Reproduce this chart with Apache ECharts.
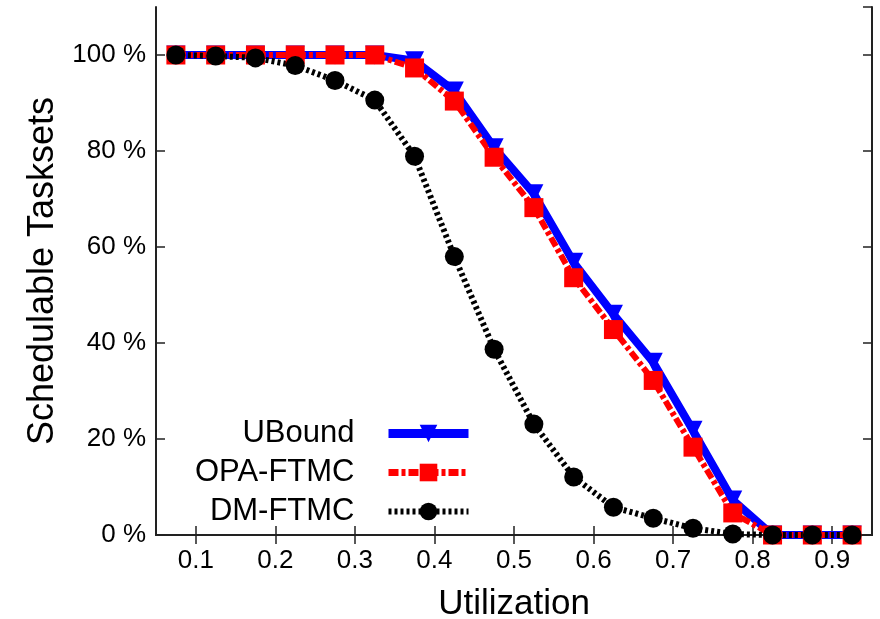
<!DOCTYPE html>
<html>
<head>
<meta charset="utf-8">
<script src="https://cdn.jsdelivr.net/npm/echarts@6/dist/echarts.min.js"></script>
<style>html,body{margin:0;padding:0;background:#fff}#c{width:880px;height:619px}</style>
</head>
<body>
<div id="c"></div>
<script>
const utilization = [0.075, 0.125, 0.175, 0.225, 0.275, 0.325, 0.375, 0.425, 0.475, 0.525, 0.575, 0.625, 0.675, 0.725, 0.775, 0.825, 0.875, 0.925];
const ubound  = [100, 100, 100, 100, 100, 100, 98.8, 92.5, 80.7, 71.1, 56.8, 46.0, 36.0, 21.8, 7.3, 0, 0, 0];
const opaFtmc = [100, 100, 100, 100, 100, 100, 97.3, 90.4, 78.7, 68.2, 53.6, 42.8, 32.2, 18.3, 4.6, 0, 0, 0];
const dmFtmc  = [100, 99.8, 99.4, 97.8, 94.7, 90.6, 78.9, 58.0, 38.7, 23.1, 12.1, 5.8, 3.5, 1.4, 0.2, 0, 0, 0];
const xTicks = [0.1, 0.2, 0.3, 0.4, 0.5, 0.6, 0.7, 0.8, 0.9];
const seriesNames = ['UBound', 'OPA-FTMC', 'DM-FTMC'];

const pairs = arr => utilization.map((x, i) => [x, arr[i]]);
const FONT = '"Liberation Sans", Arial, sans-serif';
const axisLineStyle = {color: '#222', width: 2};
const tickStyle = {color: '#222', width: 1.5};

const chart = echarts.init(document.getElementById('c'), null, {renderer: 'canvas'});
chart.setOption({
  animation: false,
  backgroundColor: '#fff',
  grid: {left: 156, right: 8, top: 7, bottom: 84, containLabel: false, outerBoundsMode: 'none'},
  legend: {
    orient: 'vertical', align: 'right',
    right: 402, top: 413,
    itemWidth: 80, itemHeight: 22, itemGap: 8,
    textStyle: {fontFamily: FONT, fontSize: 31, color: '#000', padding: [0, 29, 0, 0]},
    data: [
      {name: seriesNames[0], lineStyle: {width: 9}},
      {name: seriesNames[1], lineStyle: {width: 7}},
      {name: seriesNames[2], lineStyle: {width: 6}}
    ]
  },
  xAxis: [{
    type: 'value', min: 0.05, max: 0.95, position: 'bottom',
    name: 'Utilization', nameLocation: 'middle', nameGap: 52,
    nameTextStyle: {fontFamily: FONT, fontSize: 35, color: '#000'},
    axisLine: {lineStyle: axisLineStyle},
    axisTick: {inside: true, length: 9, lineStyle: tickStyle, customValues: xTicks},
    axisLabel: {fontFamily: FONT, fontSize: 26, color: '#000', margin: 13, customValues: xTicks, formatter: v => v.toFixed(1)},
    splitLine: {show: false}
  }, {
    type: 'value', min: 0.05, max: 0.95, position: 'top',
    axisLine: {lineStyle: axisLineStyle},
    axisTick: {inside: true, length: 9, lineStyle: tickStyle, customValues: xTicks},
    axisLabel: {show: false}, splitLine: {show: false}
  }],
  yAxis: [{
    type: 'value', min: 0, max: 110, interval: 20, position: 'left',
    name: 'Schedulable Tasksets', nameLocation: 'middle', nameGap: 84,
    nameTextStyle: {fontFamily: FONT, fontSize: 36, color: '#000'},
    axisLine: {show: true, lineStyle: axisLineStyle},
    axisTick: {inside: true, length: 9, lineStyle: tickStyle},
    axisLabel: {fontFamily: FONT, fontSize: 26, color: '#000', margin: 10, showMaxLabel: false,
      formatter: v => v <= 100 ? v + ' %' : ''},
    splitLine: {show: false}
  }, {
    type: 'value', min: 0, max: 110, interval: 20, position: 'right',
    axisLine: {show: true, lineStyle: axisLineStyle},
    axisTick: {inside: true, length: 9, lineStyle: tickStyle},
    axisLabel: {show: false}, splitLine: {show: false}
  }],
  series: [{
    name: seriesNames[0], type: 'line', data: pairs(ubound), clip: false,
    symbol: 'triangle', symbolRotate: 180, symbolSize: 19,
    itemStyle: {color: '#0000ff'},
    lineStyle: {color: '#0000ff', width: 8}
  }, {
    name: seriesNames[1], type: 'line', data: pairs(opaFtmc), clip: false,
    symbol: 'rect', symbolSize: 19,
    itemStyle: {color: '#ff0000'},
    lineStyle: {color: '#ff0000', width: 6, type: [10, 3, 4, 3]}
  }, {
    name: seriesNames[2], type: 'line', data: pairs(dmFtmc), clip: false,
    symbol: 'circle', symbolSize: 19,
    itemStyle: {color: '#000'},
    lineStyle: {color: '#000', width: 6, type: [3, 3]}
  }]
});
</script>
</body>
</html>
